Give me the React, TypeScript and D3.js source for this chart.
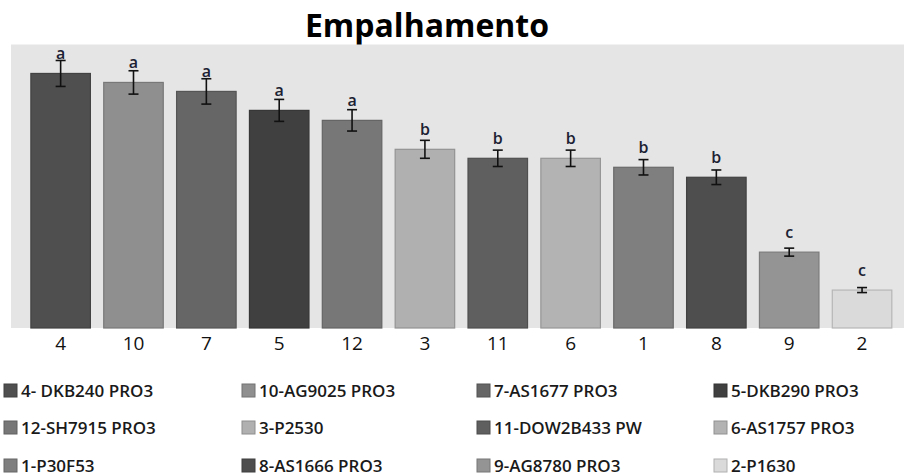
import React from "react";
import * as d3 from "d3";

const categories = ["4", "10", "7", "5", "12", "3", "11", "6", "1", "8", "9", "2"];
const values = [25.5, 24.6, 23.7, 21.8, 20.8, 17.9, 17.0, 17.0, 16.1, 15.1, 7.6, 3.8];
const errors = [1.3, 1.17, 1.27, 1.1, 1.07, 0.9, 0.82, 0.82, 0.77, 0.73, 0.4, 0.25];
const letters = ["a", "a", "a", "a", "a", "b", "b", "b", "b", "b", "c", "c"];
const fills = ["#4f4f4f", "#8f8f8f", "#666666", "#404040", "#777777", "#b0b0b0", "#5f5f5f", "#b3b3b3", "#7f7f7f", "#4e4e4e", "#949494", "#dadada"];
const legendLabels = [
  "4- DKB240 PRO3", "10-AG9025 PRO3", "7-AS1677 PRO3", "5-DKB290 PRO3",
  "12-SH7915 PRO3", "3-P2530", "11-DOW2B433 PW", "6-AS1757 PRO3",
  "1-P30F53", "8-AS1666 PRO3", "9-AG8780 PRO3", "2-P1630",
];
const title = "Empalhamento";

const W = 904, H = 476;
const plot = { left: 11, right: 904, top: 44.5, bottom: 328 };

export default function App() {
  const x = d3.scaleBand<string>().domain(categories).range([plot.left, plot.right])
    .paddingInner(0.183).paddingOuter(0.22).align(0.62);
  const y = d3.scaleLinear().domain([0, 28.4]).range([plot.bottom, plot.top]);
  const bw = x.bandwidth();
  const colX = [4, 242, 477, 714];
  const rowY = [397, 434, 472];
  const font = "'Open Sans', sans-serif";
  return (
    <svg width={W} height={H} style={{ position: "absolute", left: 0, top: 0 }} fontFamily={font}>
      <rect x={0} y={0} width={W} height={H} fill="#ffffff" />
      <text x={427} y={37} textAnchor="middle" fontSize={32} fontWeight={700} fill="#000">{title}</text>
      <rect x={plot.left} y={plot.top} width={plot.right - plot.left} height={plot.bottom - plot.top} fill="#e5e5e5" />
      {categories.map((c, i) => {
        const x0 = x(c)!;
        const cx = x0 + bw / 2;
        const yt = y(values[i]);
        const e1 = y(values[i] + errors[i]);
        const e2 = y(values[i] - errors[i]);
        return (
          <g key={c}>
            <rect x={x0} y={yt} width={bw} height={plot.bottom - yt} fill={fills[i]}
              stroke={d3.color(fills[i])!.darker(0.5).toString()} strokeWidth={1.2} />
            <line x1={cx} x2={cx} y1={e1} y2={e2} stroke="#111" strokeWidth={1.6} />
            <line x1={cx - 5} x2={cx + 5} y1={e1} y2={e1} stroke="#111" strokeWidth={1.6} />
            <line x1={cx - 5} x2={cx + 5} y1={e2} y2={e2} stroke="#111" strokeWidth={1.6} />
            <text x={cx} y={yt - 14} textAnchor="middle" fontSize={16} fontWeight={600} fill="#1c2233">{letters[i]}</text>
            <text x={cx} y={350} textAnchor="middle" fontSize={19} fill="#111">{c}</text>
          </g>
        );
      })}
      {legendLabels.map((l, i) => {
        const cx = colX[i % 4];
        const ry = rowY[Math.floor(i / 4)];
        return (
          <g key={l}>
            <rect x={cx} y={ry - 13} width={13} height={13} fill={fills[i]}
              stroke={d3.color(fills[i])!.darker(0.6).toString()} strokeWidth={1} />
            <text x={cx + 17} y={ry} fontSize={17} fontWeight={600} fill="#1a1a1a">{l}</text>
          </g>
        );
      })}
    </svg>
  );
}
